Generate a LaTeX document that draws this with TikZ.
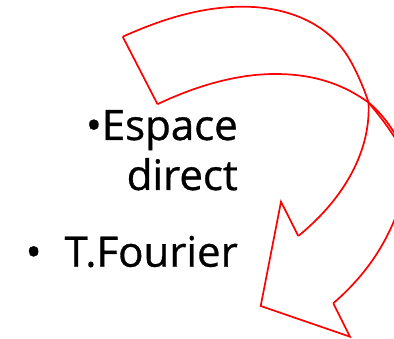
\documentclass[tikz,border=0pt]{standalone}
\usepackage{fontspec}
\setmainfont{Open Sans}[FakeBold=0.8]
\definecolor{arrowred}{HTML}{FF0000}

\begin{document}
\begin{tikzpicture}[x=1pt, y=-1pt,
    ribbon/.style={draw=arrowred, line width=1.7pt, line join=miter},
    bullettext/.style={inner sep=0pt, anchor=base east, font=\fontsize{42}{48}\selectfont}]
    \useasboundingbox (0,0) rectangle (394,339);
    \clip (0,0) rectangle (394,339);

    \coordinate (tailtop) at (122.7,36.7);
    \coordinate (tailbot) at (157.5,104.2);
    \coordinate (fold) at (368.5,102.5);
    \coordinate (barbin) at (298.3,236);
    \coordinate (barbout) at (281,201.7);
    \coordinate (tip) at (260.7,306);
    \coordinate (barbend) at (350,336.7);
    \coordinate (notch) at (333.3,303.3);

    % upper band
    \draw[ribbon] (tailtop) -- (tailbot);
    \draw[ribbon] (tailtop) .. controls (160,20) and (200,6.7) .. (243,6.7)
        .. controls (290,6.7) and (330,25) .. (350,60)
        .. controls (356,70.5) and (364,88) .. (fold)
        .. controls (378,114) and (388,126) .. (400,146);
    \draw[ribbon] (tailbot) .. controls (200,84) and (240,74) .. (275,74)
        .. controls (310,74) and (340,82) .. (fold)
        .. controls (380,112) and (390,124) .. (402,146);

    % lower band and head
    \draw[ribbon] (fold) .. controls (371,150) and (345,198) .. (barbin);
    \draw[ribbon] (barbin) -- (barbout) -- (tip) -- (barbend) -- (notch);
    \draw[ribbon] (notch) .. controls (360,280) and (385,250) .. (400,205);

    \node (espace) [bullettext] at (238,140) {\textbullet Espace};
    \node (direct) [bullettext] at (238,190) {direct};
    \node (fourier) [bullettext] at (238,266.7) {\textbullet\hspace{0.55em}T.Fourier};
\end{tikzpicture}
\end{document}
